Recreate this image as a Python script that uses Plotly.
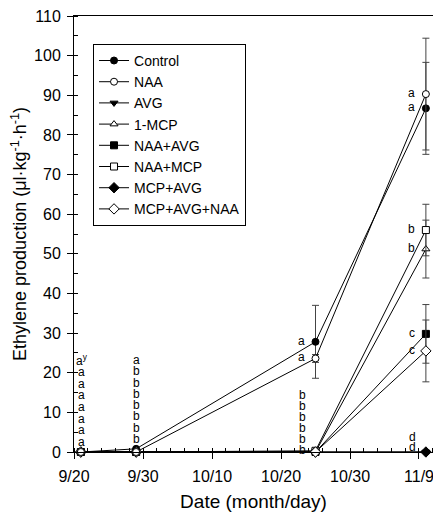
import plotly.graph_objects as go

# ---------------- data ----------------
dates = ["2000-09-21", "2000-09-29", "2000-10-25", "2000-11-10"]
treatments = ["Control", "NAA", "AVG", "1-MCP", "NAA+AVG", "NAA+MCP", "MCP+AVG", "MCP+AVG+NAA"]

control = [0.0, 0.8, 27.8, 86.7]
naa = [0.0, 0.0, 23.6, 90.3]
avg = [0.0, 0.0, 0.0, 0.0]
mcp = [0.0, 0.0, 0.0, 51.2]
naa_avg = [0.0, 0.0, 0.0, 29.8]
naa_mcp = [0.0, 0.0, 0.3, 56.0]
mcp_avg = [0.0, 0.0, 0.0, 0.0]
mcp_avg_naa = [0.0, 0.0, 0.0, 25.5]

err_control = [None, None, 9.2, 11.6]
err_naa = [None, None, 1.0, 14.1]
err_avg = [None, None, None, None]
err_mcp = [None, None, None, 7.3]
err_naa_avg = [None, None, None, 7.4]
err_naa_mcp = [None, None, None, 6.5]
err_mcp_avg = [None, None, None, None]
err_mcp_avg_naa = [None, None, None, 7.8]

# significance letters per date (treatment order)
letters_0921 = ["a", "a", "a", "a", "a", "a", "a", "a"]
letters_0929 = ["a", "b", "b", "b", "b", "b", "b", "b"]
letters_1025 = ["a", "a", "b", "b", "b", "b", "b", "b"]
letters_1110 = ["a", "a", "d", "b", "c", "b", "d", "c"]

tick_vals = ["2000-09-20", "2000-09-30", "2000-10-10", "2000-10-20", "2000-10-30", "2000-11-09"]
tick_text = ["9/20", "9/30", "10/10", "10/20", "10/30", "11/9"]

# ---------------- styling ----------------
FONT = "Liberation Sans, Arial, sans-serif"
series = [control, naa, avg, mcp, naa_avg, naa_mcp, mcp_avg, mcp_avg_naa]
errors = [err_control, err_naa, err_avg, err_mcp, err_naa_avg, err_naa_mcp, err_mcp_avg, err_mcp_avg_naa]
symbols = ["circle", "circle", "triangle-down", "triangle-up", "square", "square", "diamond", "diamond"]
fills = ["black", "white", "black", "white", "black", "white", "black", "white"]
sizes = [7, 7, 7, 7, 7, 7, 8, 8]
draw_order = [0, 2, 3, 4, 5, 6, 7, 1]

fig = go.Figure()
for i in draw_order:
    fig.add_trace(go.Scatter(
        x=dates, y=series[i], name=treatments[i], mode="lines+markers",
        legendrank=i + 1,
        line=dict(color="black", width=1),
        marker=dict(symbol=symbols[i], size=sizes[i], color=fills[i],
                    line=dict(color="black", width=1)),
        error_y=dict(type="data", array=errors[i], visible=True,
                     color="#444", thickness=1, width=3.5),
        cliponaxis=False,
    ))

annotations = []
letter_font = dict(family=FONT, size=12, color="black")

def stack(date, labels, base, step, xshift):
    n = len(labels)
    for k, lab in enumerate(labels):
        annotations.append(dict(
            x=date, y=0, xref="x", yref="y", text=lab, showarrow=False,
            xanchor="center", yanchor="middle", font=letter_font,
            xshift=xshift, yshift=base + (n - 1 - k) * step))

labels_0921 = list(letters_0921)
labels_0921[0] = labels_0921[0] + "<sup>y</sup>"
stack(dates[0], labels_0921, 10, 11.7, 1)
stack(dates[1], letters_0929, 13, 11.3, 0)

for di, lets, stack_base, stack_step in [(2, letters_1025, 2, 11.0), (3, letters_1110, 5, 10.3)]:
    stacked = []
    for ti in range(len(treatments)):
        v = series[ti][di]
        if v > 5:
            annotations.append(dict(
                x=dates[di], y=v, xref="x", yref="y", text=lets[ti], showarrow=False,
                xanchor="center", yanchor="middle", font=letter_font, xshift=-14, yshift=1))
        else:
            stacked.append(lets[ti])
    stack(dates[di], stacked, stack_base, stack_step, -13.5)

fig.update_layout(
    width=433, height=512,
    margin=dict(l=74, r=0, t=16, b=60, autoexpand=False),
    paper_bgcolor="white", plot_bgcolor="white",
    font=dict(family=FONT, color="black"),
    showlegend=True,
    legend=dict(x=0.053, y=0.936, xanchor="left", yanchor="top",
                bordercolor="black", borderwidth=1, bgcolor="white",
                font=dict(family=FONT, size=14, color="black"),
                itemwidth=30, tracegroupgap=0),
    annotations=annotations,
)
fig.update_xaxes(
    type="date", range=["2000-09-20", "2000-11-11 00:43"], automargin=False,
    tickvals=tick_vals, ticktext=tick_text,
    ticks="outside", ticklen=6, tickwidth=1, tickcolor="black",
    ticklabeloverflow="allow", ticklabelstandoff=4,
    minor=dict(dtick=2 * 86400000, tick0="2000-09-20", ticks="inside", ticklen=4, tickcolor="black"),
    showline=True, linecolor="black", linewidth=1, mirror=True,
    showgrid=False, zeroline=False,
    tickfont=dict(family=FONT, size=16),
    title=dict(text="Date (month/day)", font=dict(family=FONT, size=19), standoff=19),
)
fig.update_yaxes(
    range=[0, 110], dtick=10, tick0=0, automargin=False,
    ticks="outside", ticklen=6, tickwidth=1, tickcolor="black",
    ticklabeloverflow="allow", ticklabelstandoff=3,
    minor=dict(dtick=5, ticks="inside", ticklen=4, tickcolor="black"),
    showline=True, linecolor="black", linewidth=1,
    showgrid=False, zeroline=False,
    tickfont=dict(family=FONT, size=16),
    title=dict(text="Ethylene production (μl·kg<sup>-1</sup>·h<sup>-1</sup>)",
               font=dict(family=FONT, size=18), standoff=2),
)

# remove the page's default body margin so the figure sits at the window origin
fig.write_html("out.html",
               config={"displayModeBar": False},
               post_script="document.body.style.margin='0px';document.body.style.overflow='hidden';")
